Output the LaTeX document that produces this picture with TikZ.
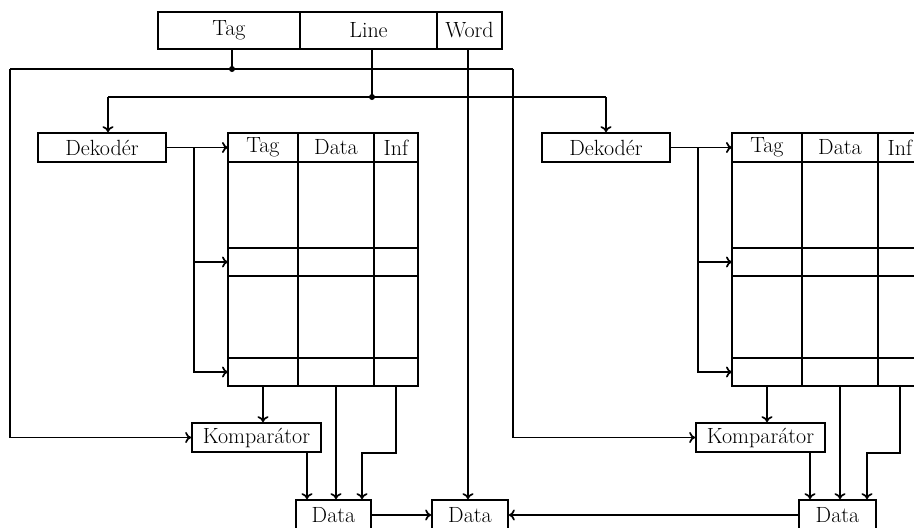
\documentclass[tikz,border=0pt]{standalone}
\usepackage{fontspec}
\usetikzlibrary{arrows.meta}
\begin{document}
\begin{tikzpicture}[x=1pt,y=-1pt,line width=1.7pt,
  txt/.style={font=\fontsize{22}{25}\selectfont},
  box/.style={draw,rectangle,inner sep=0pt,minimum height=29pt,txt},
  arr/.style={-{To[length=6pt,width=11pt]}},
  dot/.style={circle,fill,inner sep=0pt,minimum size=6pt},
  cachetab/.pic={
    \draw (0,0) rectangle (190,253);
    \draw (70,0) -- (70,253);
    \draw (146,0) -- (146,253);
    \draw (0,29) -- (190,29);
    \draw (0,115) -- (190,115);
    \draw (0,143) -- (190,143);
    \draw (0,225) -- (190,225);
    \node[txt,inner sep=0pt] (-tag) at (35,14.5) {Tag};
    \node[txt,inner sep=0pt] (-data) at (108,14.5) {Data};
    \node[txt,inner sep=0pt] (-inf) at (168,14.5) {Inf};
    \coordinate (-r0) at (0,14.5);
    \coordinate (-r1) at (0,129);
    \coordinate (-r2) at (0,239);
    \coordinate (-ctag) at (35,253);
    \coordinate (-cdata) at (108,253);
    \coordinate (-cinf) at (168,253);
  }]
\useasboundingbox (0,0) rectangle (914,528);
\clip (0,0) rectangle (914,528);

% address register
\node[box,minimum width=142pt,minimum height=37pt] (regTag) at (229,30.5) {Tag};
\node[box,minimum width=137pt,minimum height=37pt] (regLine) at (368.5,30.5) {Line};
\node[box,minimum width=65pt,minimum height=37pt] (regWord) at (469.5,30.5) {Word};

% decoders
\node[box,minimum width=128pt] (decL) at (102,147.5) {Dekodér};
\node[box,minimum width=128pt] (decR) at (606,147.5) {Dekodér};

% tables
\pic (tabL) at (228,133) {cachetab};
\pic (tabR) at (732,133) {cachetab};

% comparators
\node[box,minimum width=129pt] (kompL) at (256.5,437.5) {Komparátor};
\node[box,minimum width=129pt] (kompR) at (760.5,437.5) {Komparátor};

% data boxes
\node[box,minimum width=75pt,minimum height=30pt] (dataL) at (333.5,515) {Data};
\node[box,minimum width=76pt,minimum height=30pt] (dataM) at (470,515) {Data};
\node[box,minimum width=77pt,minimum height=30pt] (dataR) at (837.5,515) {Data};

% coordinates
\coordinate (tapT) at (232,69);
\coordinate (tapL) at (372,97);
\coordinate (tapW) at (468,0);
\coordinate (tbL) at (10,69);
\coordinate (tbR) at (513,69);
\coordinate (lbL) at (108,97);
\coordinate (lbR) at (606,97);
\coordinate (busL) at (194,0);
\coordinate (busR) at (698,0);
\coordinate (jL) at (362,453);
\coordinate (jR) at (867,453);
\coordinate (koL) at (307,452);
\coordinate (koR) at (810,452);

% tag bus
\draw (tapT |- regTag.south) -- (tapT);
\draw (tbL) -- (tbR);
\node[dot] (dT) at (tapT) {};
\draw[arr] (tbL) |- (kompL.west);
\draw[arr] (tbR) |- (kompR.west);

% line bus
\draw (tapL |- regLine.south) -- (tapL);
\draw (lbL) -- (lbR);
\node[dot] (dL) at (tapL) {};
\draw[arr] (lbL) -- (lbL |- decL.north);
\draw[arr] (lbR) -- (lbR |- decR.north);

% word
\draw[arr] (tapW |- regWord.south) -- (tapW |- dataM.north);

% left decoder to table
\draw[arr] (decL.east) -- (tabL-r0);
\draw[arr] (busL |- decL.east) |- (tabL-r2);
\draw[arr] (busL |- tabL-r1) -- (tabL-r1);

% right decoder to table
\draw[arr] (decR.east) -- (tabR-r0);
\draw[arr] (busR |- decR.east) |- (tabR-r2);
\draw[arr] (busR |- tabR-r1) -- (tabR-r1);

% left table outputs
\draw[arr] (tabL-ctag) -- (tabL-ctag |- kompL.north);
\draw[arr] (tabL-cdata) -- (tabL-cdata |- dataL.north);
\draw[arr] (tabL-cinf) |- (jL) -- (jL |- dataL.north);
\draw[arr] (koL) -- (koL |- dataL.north);

% right table outputs
\draw[arr] (tabR-ctag) -- (tabR-ctag |- kompR.north);
\draw[arr] (tabR-cdata) -- (tabR-cdata |- dataR.north);
\draw[arr] (tabR-cinf) |- (jR) -- (jR |- dataR.north);
\draw[arr] (koR) -- (koR |- dataR.north);

% data to output
\draw[arr] (dataL.east) -- (dataM.west);
\draw[arr] (dataR.west) -- (dataM.east);
\end{tikzpicture}
\end{document}
